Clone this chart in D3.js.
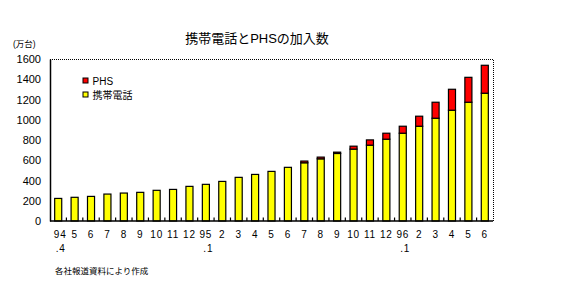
<!DOCTYPE html>
<html>
<head>
<meta charset="utf-8">
<script src="https://cdn.jsdelivr.net/npm/d3@7"></script>
<style>
  body { margin: 0; background: #fff; }
  svg { display: block; }
  text { font-family: "Liberation Sans", "Noto Sans CJK JP", sans-serif; fill: #000; }
</style>
</head>
<body>
<div id="chart"></div>
<script>
// month labels, 1994.4 - 1996.6
var months = ["94","5","6","7","8","9","10","11","12","95","2","3","4","5","6","7","8","9","10","11","12","96","2","3","4","5","6"];
var subLabels = [".4","","","","","","","","",".1","","","","","","","","","","","",".1","","","","",""];
// 携帯電話 (万台)
var mobile = [223,234,243,266,276,283,303,312,342,362,391,431,460,490,530,575,614,667,710,749,808,867,936,1015,1094,1173,1262];
// PHS (万台)
var phs = [0,0,0,0,0,0,0,0,0,0,0,0,0,0,0,17,17,13,29,52,59,69,99,158,207,246,276];
var yTicks = [0,200,400,600,800,1000,1200,1400,1600];

var W = 562, H = 287;
var margin = {top: 59, right: 69, bottom: 66, left: 50};

var svg = d3.select("#chart").append("svg")
    .attr("width", W)
    .attr("height", H);

var rows = months.map(function(m, i) {
    return {i: i, mobile: mobile[i], phs: phs[i]};
});

var x = d3.scaleBand()
    .domain(d3.range(months.length))
    .range([margin.left, W - margin.right])
    .paddingInner(0.57)
    .paddingOuter(0.285);

var y = d3.scaleLinear()
    .domain([0, 1600])
    .range([H - margin.bottom, margin.top]);

var colors = {mobile: "#ffff00", phs: "#ff0000"};

// title
svg.append("text")
    .attr("x", 257).attr("y", 43)
    .attr("text-anchor", "middle")
    .style("font-size", "13px")
    .text("携帯電話とPHSの加入数");

// unit
svg.append("text")
    .attr("x", 13).attr("y", 47)
    .style("font-size", "8.5px")
    .text("(万台)");

// dotted frame top / right
svg.append("path")
    .attr("d", "M" + margin.left + "," + (y(1600) + 0.5) + "H" + (W - margin.right + 0.5) + "V" + y(0))
    .attr("fill", "none")
    .attr("stroke", "#000")
    .attr("stroke-dasharray", "1,1");

// stacked bars
var stacked = d3.stack().keys(["mobile", "phs"])(rows);

svg.append("g")
  .selectAll("g")
  .data(stacked)
  .enter().append("g")
    .attr("fill", function(d) { return colors[d.key]; })
  .selectAll("rect")
  .data(function(d) { return d.filter(function(p) { return p[1] > p[0]; }); })
  .enter().append("rect")
    .attr("x", function(d) { return x(d.data.i); })
    .attr("width", x.bandwidth())
    .attr("y", function(d) { return y(d[1]); })
    .attr("height", function(d) { return y(d[0]) - y(d[1]); })
    .attr("stroke", "#000")
    .attr("stroke-width", 1.2);

// y axis
var yAxis = svg.append("g")
    .attr("transform", "translate(" + margin.left + ",0)")
    .call(d3.axisLeft(y).tickValues(yTicks).tickFormat(d3.format("d")).tickSize(0).tickPadding(9));
yAxis.select(".domain").attr("stroke", "#000").attr("stroke-width", 1.5);
yAxis.selectAll("text").style("font-size", "11px").style("font-family", "Liberation Sans");

// x axis: small ticks between bars pointing up
var bounds = d3.range(months.length + 1).map(function(k) {
    return margin.left + k * x.step();
});
svg.append("line")
    .attr("x1", margin.left).attr("x2", W - margin.right)
    .attr("y1", y(0)).attr("y2", y(0))
    .attr("stroke", "#000").attr("stroke-width", 1.5);
svg.append("g").selectAll("line")
  .data(bounds.slice(1, -1))
  .enter().append("line")
    .attr("x1", function(d) { return d; }).attr("x2", function(d) { return d; })
    .attr("y1", y(0)).attr("y2", y(0) - 3.5)
    .attr("stroke", "#000").attr("stroke-width", 1.2);

var xl = svg.append("g").style("font-size", "10px").style("letter-spacing", "0.8px");
xl.selectAll("text.m")
  .data(months)
  .enter().append("text")
    .attr("class", "m")
    .attr("x", function(d, i) { return x(i) + x.bandwidth() / 2 + (d.length > 1 && i < 1 ? 2 : 0); })
    .attr("y", 238)
    .attr("text-anchor", "middle")
    .text(function(d) { return d; });
xl.selectAll("text.s")
  .data(subLabels)
  .enter().append("text")
    .attr("class", "s")
    .attr("x", function(d, i) { return x(i) + 1; })
    .attr("y", 252)
    .text(function(d) { return d; });

// legend
var legend = svg.append("g").attr("transform", "translate(83,78)");
var legendItems = [{key: "phs", label: "PHS"}, {key: "mobile", label: "携帯電話"}];
legendItems.forEach(function(it, k) {
    legend.append("rect")
        .attr("x", 0).attr("y", k * 14)
        .attr("width", 5).attr("height", 5)
        .attr("fill", colors[it.key])
        .attr("stroke", "#000");
    legend.append("text")
        .attr("x", 9.5).attr("y", k * 14 + 6.5)
        .style("font-size", "10px")
        .text(it.label);
});

// source note
svg.append("text")
    .attr("x", 55).attr("y", 273.5)
    .style("font-size", "8.5px")
    .text("各社報道資料により作成");
</script>
</body>
</html>
